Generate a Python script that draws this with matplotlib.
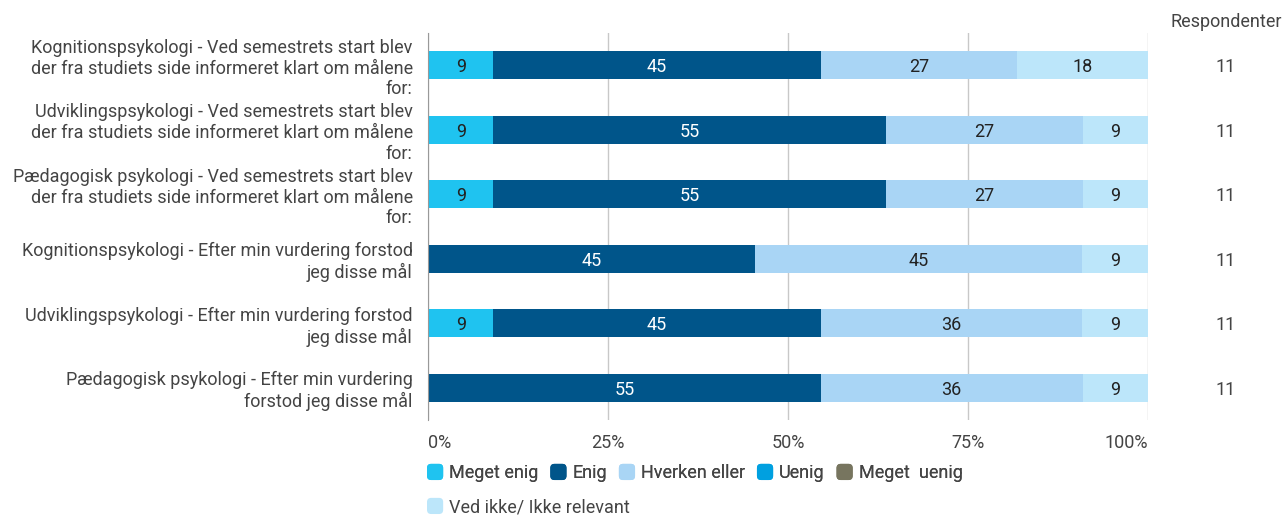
import matplotlib.pyplot as plt
import numpy as np
from matplotlib.legend_handler import HandlerPatch
from matplotlib.patches import FancyBboxPatch

plt.rcParams['font.family'] = ['Roboto', 'DejaVu Sans']

categories = [
    "Kognitionspsykologi - Ved semestrets start blev\nder fra studiets side informeret klart om målene\nfor:",
    "Udviklingspsykologi - Ved semestrets start blev\nder fra studiets side informeret klart om målene\nfor:",
    "Pædagogisk psykologi - Ved semestrets start blev\nder fra studiets side informeret klart om målene\nfor:",
    "Kognitionspsykologi - Efter min vurdering forstod\njeg disse mål",
    "Udviklingspsykologi - Efter min vurdering forstod\njeg disse mål",
    "Pædagogisk psykologi - Efter min vurdering\nforstod jeg disse mål",
]
series_names = ["Meget enig", "Enig", "Hverken eller", "Uenig", "Meget  uenig",
                "Ved ikke/ Ikke relevant"]
colors = ["#1fc3f0", "#00558a", "#a9d5f5", "#00a0e0", "#77755f", "#bce6fa"]

meget_enig = [9.09, 9.09, 9.09, 0, 9.09, 0]
enig = [45.45, 54.55, 54.55, 45.45, 45.45, 54.55]
hverken = [27.27, 27.27, 27.27, 45.45, 36.36, 36.36]
uenig = [0, 0, 0, 0, 0, 0]
meget_uenig = [0, 0, 0, 0, 0, 0]
ved_ikke = [18.18, 9.09, 9.09, 9.09, 9.09, 9.09]
respondenter = [11, 11, 11, 11, 11, 11]

series = [meget_enig, enig, hverken, uenig, meget_uenig, ved_ikke]
label_colors = ["#222222", "white", "#222222", "white", "white", "#222222"]
fs = 13
txt = '#444444'


class RoundBox(HandlerPatch):
    def create_artists(self, legend, orig_handle, xdescent, ydescent,
                       width, height, fontsize, trans):
        size = min(width, height)
        p = FancyBboxPatch((-xdescent, -ydescent + (height - size) / 2), size, size,
                           boxstyle="round,pad=0,rounding_size=3",
                           facecolor=orig_handle.get_facecolor(), edgecolor='none')
        p.set_transform(trans)
        return [p]


fig = plt.figure(figsize=(12.85, 5.15), dpi=100)
ax = fig.add_axes([428/1285, 1-420/515, 720/1285, 387/515])

y = np.arange(len(categories))
left = np.zeros(len(categories))
handles = []
for vals, name, c, lc in zip(series, series_names, colors, label_colors):
    vals = np.array(vals, dtype=float)
    bars = ax.barh(y, vals, left=left, height=0.43, color=c, label=name, linewidth=0)
    handles.append(bars.patches[0])
    for yi, v, l0 in zip(y, vals, left):
        if v > 0:
            ax.text(l0 + v/2, yi + 0.03, f"{v:.0f}", ha='center', va='center',
                    color=lc, fontsize=fs)
    left += vals

ax.set_xlim(0, 100)
ax.set_ylim(5.5, -0.5)
ax.set_yticks(y)
ax.set_yticklabels(categories, fontsize=fs, color=txt, linespacing=1.18)
for lab in ax.get_yticklabels():
    lab.set_multialignment('right')
ax.set_xticks([0, 25, 50, 75, 100])
xl = ax.set_xticklabels(["0%", "25%", "50%", "75%", "100%"], fontsize=fs, color=txt)
xl[0].set_horizontalalignment('left')
xl[-1].set_horizontalalignment('right')
ax.tick_params(length=0)
ax.tick_params(axis='y', pad=11)
ax.tick_params(axis='x', pad=10)
ax.grid(axis='x', color='#c8c8c8', linewidth=1)
ax.set_axisbelow(True)
for s in ['top', 'right', 'bottom']:
    ax.spines[s].set_visible(False)
ax.spines['left'].set_color('#999999')

# respondent column
fig.text(1226/1285, 1-22/515, "Respondenter", ha='center', va='center',
         fontsize=fs, color=txt)
for yi, r in zip(y, respondenter):
    ax.text(1.0 + 78/720, yi + 0.03, str(r), transform=ax.get_yaxis_transform(),
            ha='center', va='center', fontsize=fs, color=txt)

leg_kw = dict(frameon=False, fontsize=fs, handlelength=1.0, handleheight=1.0,
              handletextpad=0.22, columnspacing=0.66, borderpad=0, borderaxespad=0,
              labelcolor=txt, handler_map={FancyBboxPatch: RoundBox()})
hm = {h: RoundBox() for h in handles}
leg_kw['handler_map'] = hm
leg1 = fig.legend(handles[:5], series_names[:5], loc='center left',
                  bbox_to_anchor=(427/1285, 1-473/515), ncol=5, **leg_kw)
leg2 = fig.legend(handles[5:], series_names[5:], loc='center left',
                  bbox_to_anchor=(427/1285, 1-507/515), ncol=1, **leg_kw)
fig.add_artist(leg1)

fig.savefig("out.png", dpi=100)
